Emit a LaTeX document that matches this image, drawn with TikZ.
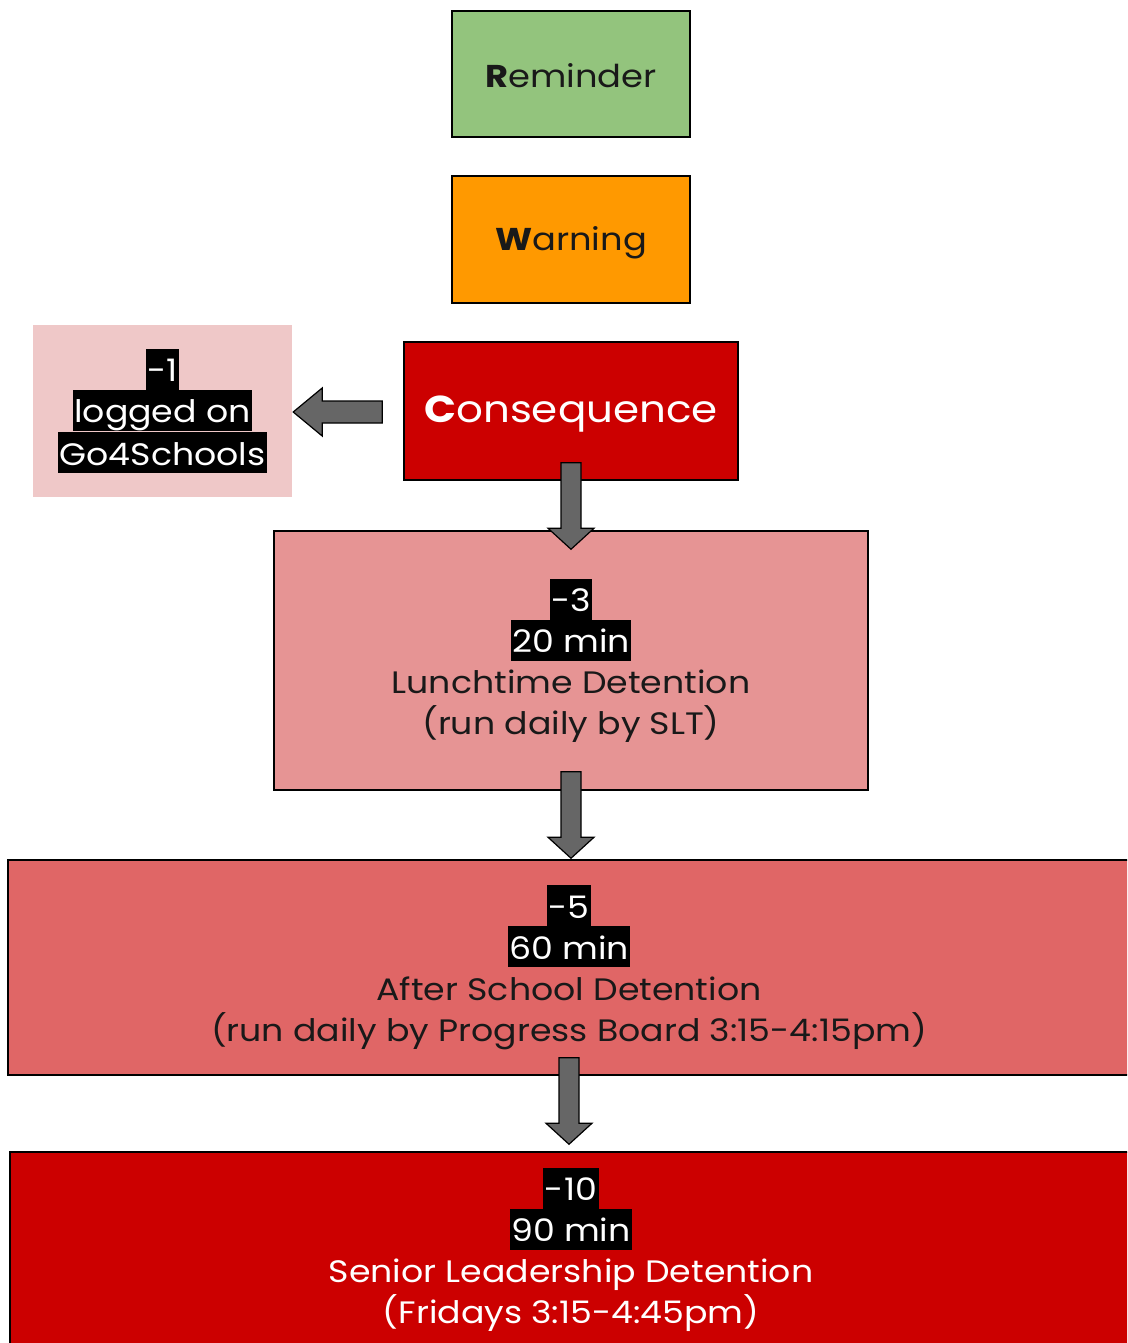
\documentclass[tikz,border=0pt]{standalone}
\usepackage{fontspec}
\setmainfont{Poppins}[FakeStretch=1.12]
\usetikzlibrary{calc}
\definecolor{remgreen}{HTML}{93C47D}
\definecolor{warnorange}{HTML}{FF9900}
\definecolor{darkred}{HTML}{CC0000}
\definecolor{logpink}{HTML}{EFC8C8}
\definecolor{lunchpink}{HTML}{E69494}
\definecolor{afterred}{HTML}{E06666}
\definecolor{arrowgrey}{HTML}{666666}
\newcommand{\hl}[1]{{\setlength{\fboxsep}{0pt}\colorbox{black}{\textcolor{white}{\kern1.5pt\rule[-8pt]{0pt}{41pt}#1\kern1.5pt}}}}
\newcommand{\dnarrow}[2]{%
  \draw[blockarrow] ($(#1)+(-10,0)$) -- ($(#2)+(-10,-21)$) -- ($(#2)+(-23,-21)$) -- (#2)
    -- ($(#2)+(23,-21)$) -- ($(#2)+(10,-21)$) -- ($(#1)+(10,0)$) -- cycle;}
\newcommand{\lfarrow}[2]{%
  \draw[blockarrow] ($(#1)+(0,-11)$) -- ($(#2)+(29,-11)$) -- ($(#2)+(29,-24)$) -- (#2)
    -- ($(#2)+(29,24)$) -- ($(#2)+(29,11)$) -- ($(#1)+(0,11)$) -- cycle;}
\tikzset{
  box/.style={draw=black, line width=1.5pt, rectangle, inner sep=0pt, align=center},
  blockarrow/.style={draw=black, line width=1.2pt, fill=arrowgrey, line join=miter},
  bodyfont/.style={font=\fontsize{31}{41}\selectfont},
  titlefont/.style={font=\fontsize{31.5}{38}\selectfont}
}
\begin{document}
\begin{tikzpicture}[x=1pt,y=-1pt]
\useasboundingbox (0,0) rectangle (1127,1343);
\begin{scope}
\clip (0,0) rectangle (1127,1343);
\node[box, fill=remgreen, minimum width=238pt, minimum height=126pt] (rem) at (571,74) {};
\node[titlefont, text=black!90] (remtxt) at ($(rem.center)+(0,2)$) {\textbf{R}eminder};
\node[box, fill=warnorange, minimum width=238pt, minimum height=127pt] (warn) at (571,239.5) {};
\node[titlefont, text=black!90] (warntxt) at ($(warn.center)+(0,3)$) {\textbf{W}arning};
\node[box, fill=darkred, minimum width=334pt, minimum height=138pt] (cons) at (571,411) {};
\node[text=white, font=\fontsize{37.5}{44}\selectfont] (constxt) at ($(cons.center)+(0,3)$) {\textbf{C}onsequence};
\node[rectangle, fill=logpink, minimum width=259pt, minimum height=172pt] (logbox) at (162.5,411) {};
\node[align=center, inner sep=0pt, bodyfont] (logtxt) at (logbox.center) {\hl{-1}\\\hl{logged on}\\\hl{Go4Schools}};
\node[box, fill=lunchpink, minimum width=594pt, minimum height=259pt, bodyfont, text=black!90] (lunch) at (571,660.5) {\hl{-3}\\\hl{20 min}\\Lunchtime Detention\\(run daily by SLT)};
\node[box, fill=afterred, minimum width=1122pt, minimum height=215pt, bodyfont, text=black!90] (after) at (569,967.5) {\hl{-5}\\\hl{60 min}\\After School Detention\\(run daily by Progress Board 3:15-4:15pm)};
\node[box, fill=darkred, minimum width=1122pt, minimum height=200pt] (senior) at (571,1252) {};
\node[align=center, inner sep=0pt, bodyfont, text=white] (seniortxt) at (571,1250) {\hl{-10}\\\hl{90 min}\\Senior Leadership Detention\\(Fridays 3:15-4:45pm)};
\coordinate (a0s) at ($(cons.west)+(-21,1)$);
\coordinate (a0t) at ($(logbox.east)+(1,1)$);
\lfarrow{a0s}{a0t}
\coordinate (a1s) at ($(cons.south)+(0,-18)$);
\coordinate (a1t) at ($(lunch.north)+(0,19)$);
\dnarrow{a1s}{a1t}
\coordinate (a2s) at ($(lunch.south)+(0,-19)$);
\coordinate (a2t) at ($(after.north)+(2,-1)$);
\dnarrow{a2s}{a2t}
\coordinate (a3s) at ($(after.south)+(0,-18)$);
\coordinate (a3t) at ($(senior.north)+(-2,-7)$);
\dnarrow{a3s}{a3t}
\end{scope}
\end{tikzpicture}
\end{document}
